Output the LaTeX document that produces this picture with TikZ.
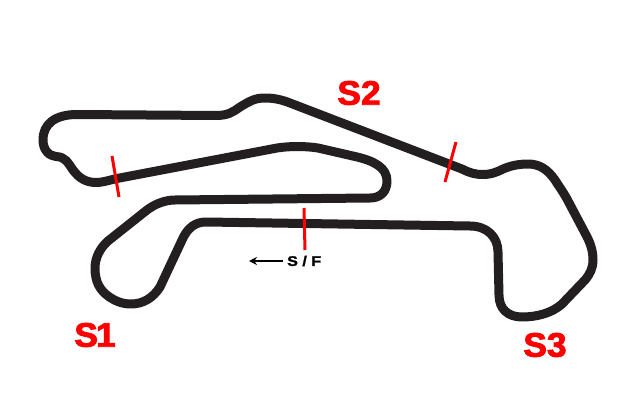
\documentclass[tikz,border=0pt]{standalone}
\usepackage{fontspec}
\setmainfont{Liberation Sans}
\newfontfamily\heavywide[FakeStretch=1.04,FakeBold=2.5]{Liberation Sans Bold}
\newfontfamily\smallwide[FakeStretch=1.15,FakeBold=1.5]{Liberation Sans Bold}
\usetikzlibrary{arrows.meta}
\definecolor{trackblack}{HTML}{231F20}
\definecolor{sectorred}{HTML}{FF0000}
\tikzset{
  trackline/.style={draw=trackblack,line width=9pt,line join=round},
  sectorline/.style={draw=sectorred,line width=3pt},
  sectorlabel/.style={text=sectorred,font=\fontsize{34}{34}\heavywide,inner sep=0pt},
  sflabel/.style={text=black,font=\fontsize{14}{14}\smallwide,inner sep=0pt},
}
\begin{document}
\begin{tikzpicture}[x=1pt,y=-1pt]
\useasboundingbox (0,0) rectangle (635,415);
\fill[white] (0,0) rectangle (635,415);
\draw[trackline] (216,115.5) -- (77,114.5)
 .. controls (55,114.5) and (43,124) .. (43,140)
 .. controls (43,151) and (50,156) .. (56,156.5)
 .. controls (66,157) and (68,163) .. (73,170)
 .. controls (79,178) and (86,183) .. (98,182.5)
 .. controls (104,182) and (110,180) .. (117,178.5)
 -- (277,148)
 .. controls (290,146) and (305,146) .. (318,148)
 -- (355,156.5)
 .. controls (375,161) and (387,168) .. (387,181)
 .. controls (387,192) and (380,198) .. (370,198)
 -- (175,200)
 .. controls (165,200) and (155,204) .. (147,210)
 -- (108,241)
 .. controls (100,248) and (95,258) .. (95,268)
 .. controls (95,282) and (100,290) .. (108,296)
 .. controls (115,301) and (122,304) .. (131,304)
 .. controls (143,304) and (153,298) .. (160,287)
 -- (183,238)
 .. controls (188,228) and (195,222) .. (206,222)
 -- (470,226)
 .. controls (487,226) and (498,237) .. (498,252)
 -- (499,295)
 .. controls (499,309) and (508,317) .. (522,317)
 .. controls (537,317) and (552,313) .. (562,304)
 -- (585,280)
 .. controls (590,274) and (593,268) .. (593,260)
 .. controls (593,250) and (590,242) .. (585,233)
 -- (567,199)
 .. controls (562,190) and (558,185) .. (555,180)
 .. controls (548,170) and (540,164) .. (528,164)
 .. controls (518,164) and (510,166) .. (503,169)
 .. controls (495,173) and (490,174.5) .. (483,174.5)
 .. controls (475,174.5) and (470,173) .. (462,169)
 -- (290,103)
 .. controls (280,99) and (272,98) .. (265,98)
 .. controls (255,98) and (250,101) .. (240,107)
 .. controls (233,112) and (228,115.5) .. (216,115.5) -- cycle;
\coordinate (s1a) at (112,156);
\coordinate (s1b) at (119,197);
\coordinate (s2a) at (456,142);
\coordinate (s2b) at (445,182);
\coordinate (sfa) at (304,208);
\coordinate (sfb) at (305,250);
\draw[sectorline] (s1a) -- (s1b);
\draw[sectorline] (s2a) -- (s2b);
\draw[sectorline] (sfa) -- (sfb);
\node[sectorlabel] (s2) at (359,93) {S2};
\node[sectorlabel] (s1) at (95,335) {S\kern-2pt 1};
\node[sectorlabel] (s3) at (545,345) {S3};
\node[sflabel,anchor=west] (sf) at (287,261) {S / F};
\coordinate (arrowend) at (249,261);
\draw[black,line width=1.5pt,-{Stealth[length=8pt,width=8pt]}] (sf.west) ++(-4,0) -- (arrowend);
\end{tikzpicture}
\end{document}
